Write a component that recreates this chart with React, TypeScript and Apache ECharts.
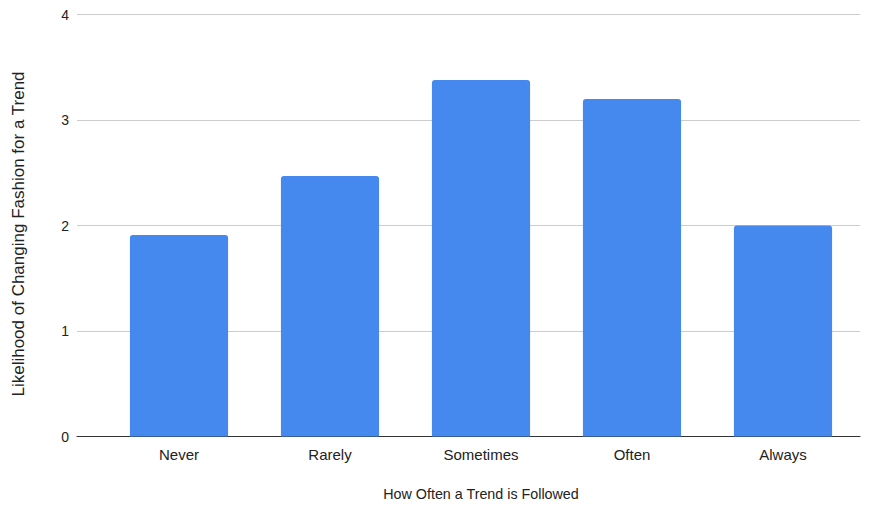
import React, { useEffect, useRef } from "react";
import * as echarts from "echarts";

const categories = ["Never", "Rarely", "Sometimes", "Often", "Always"];
const values = [1.91, 2.47, 3.38, 3.2, 2.0];
const yTicks = { min: 0, max: 4, interval: 1 };
const xTitle = "How Often a Trend is Followed";
const yTitle = "Likelihood of Changing Fashion for a Trend";

export default function App() {
  const ref = useRef<HTMLDivElement>(null);
  useEffect(() => {
    const chart = echarts.init(ref.current!, undefined, { renderer: "svg" });
    const font = "Liberation Sans, Arial, sans-serif";
    chart.setOption({
      animation: false,
      grid: [
        { left: 77, right: 17, top: 14.5, bottom: 69.5 },
        { left: 103.5, right: 18.5, top: 14.5, bottom: 69.5 },
      ],
      xAxis: [
        {
          gridIndex: 0,
          type: "value",
          min: 0,
          max: 1,
          axisLabel: { show: false },
          axisTick: { show: false },
          splitLine: { show: false },
          axisLine: { show: true, lineStyle: { color: "#333", width: 1.2 } },
        },
        {
          gridIndex: 1,
          type: "category",
          data: categories,
          name: xTitle,
          nameLocation: "middle",
          nameGap: 50,
          nameTextStyle: { fontFamily: font, fontSize: 14.3, color: "#222" },
          axisTick: { show: false },
          axisLine: { show: false },
          axisLabel: { fontFamily: font, fontSize: 15, color: "#222", margin: 10 },
        },
      ],
      yAxis: [
        {
          gridIndex: 0,
          type: "value",
          min: yTicks.min,
          max: yTicks.max,
          interval: yTicks.interval,
          axisLine: { show: false },
          axisTick: { show: false },
          splitLine: { lineStyle: { color: "#ccc", width: 1 } },
          axisLabel: { fontFamily: font, fontSize: 14, color: "#222", margin: 8 },
        },
        {
          gridIndex: 1,
          type: "value",
          min: yTicks.min,
          max: yTicks.max,
          interval: yTicks.interval,
          show: false,
        },
      ],
      graphic: [
        {
          type: "text",
          x: 18,
          y: 234,
          rotation: Math.PI / 2,
          style: {
            text: yTitle,
            fontFamily: font,
            fontSize: 17,
            fill: "#222",
            align: "center",
            verticalAlign: "middle",
          },
        },
      ],
      series: [
        {
          type: "bar",
          xAxisIndex: 1,
          yAxisIndex: 1,
          data: values,
          barCategoryGap: "35%",
          itemStyle: { color: "#4589EF", borderRadius: [3, 3, 0, 0] },
        },
      ],
    });
    return () => chart.dispose();
  }, []);
  return <div ref={ref} style={{ width: 877, height: 506, position: "absolute", left: 0, top: 0 }} />;
}
